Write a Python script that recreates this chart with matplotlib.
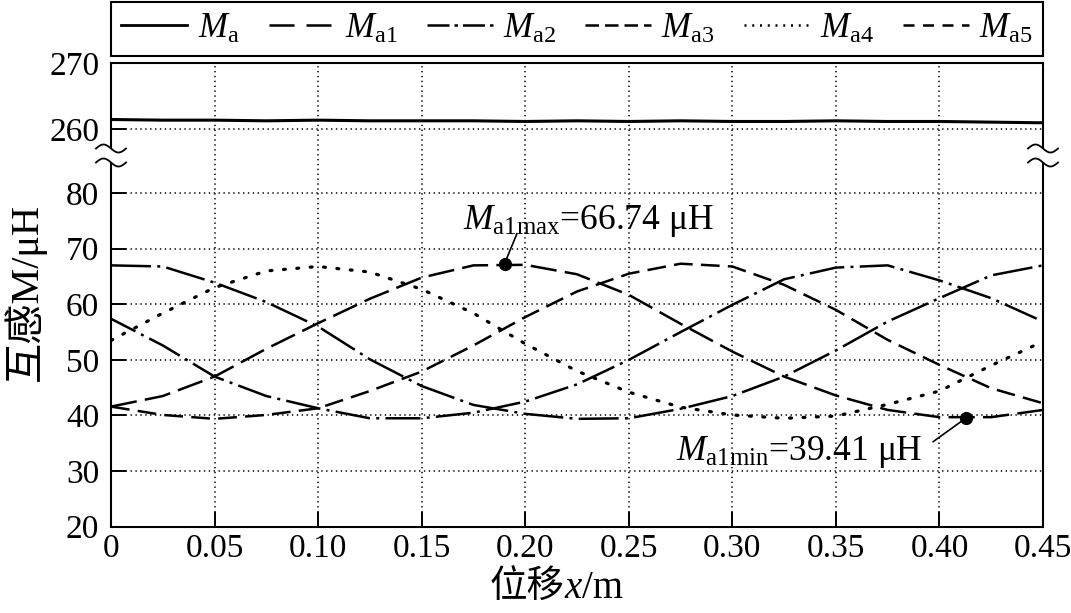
import numpy as np
import matplotlib
matplotlib.use('Agg')
import matplotlib.pyplot as plt
from matplotlib.lines import Line2D
from matplotlib.patches import Polygon
from matplotlib.ticker import NullLocator
from matplotlib.offsetbox import TextArea, HPacker, AnnotationBbox

plt.rcParams['font.family'] = ['Liberation Serif', 'Noto Sans CJK SC']
plt.rcParams['mathtext.fontset'] = 'custom'
plt.rcParams['mathtext.rm'] = 'Liberation Serif'
plt.rcParams['mathtext.it'] = 'Liberation Serif:italic'

# ---------------- data ----------------
x = [0.0, 0.025, 0.05, 0.075, 0.10, 0.125, 0.15, 0.175, 0.20, 0.225,
     0.25, 0.275, 0.30, 0.325, 0.35, 0.375, 0.40, 0.425, 0.45]
Ma = [261.5, 261.4, 261.4, 261.3, 261.4, 261.3, 261.3, 261.3, 261.2, 261.3,
      261.2, 261.3, 261.2, 261.2, 261.3, 261.2, 261.2, 261.1, 261.0]
Ma1 = [41.6, 43.5, 47.0, 52.0, 56.6, 61.0, 64.8, 67.0, 67.1, 65.4,
       61.7, 56.5, 51.5, 47.0, 43.6, 41.0, 39.7, 39.7, 41.0]
Ma2 = [67.0, 66.8, 63.9, 60.4, 56.0, 50.1, 45.3, 41.9, 40.3, 39.4,
       39.5, 41.2, 43.5, 47.0, 51.7, 56.9, 61.1, 65.2, 67.0]
Ma3 = [41.6, 40.1, 39.4, 40.1, 41.3, 44.4, 47.9, 52.6, 57.7, 62.3,
       65.5, 67.3, 66.8, 63.5, 59.0, 53.6, 49.1, 44.9, 42.2]
Ma4 = [53.5, 58.4, 63.0, 66.0, 66.8, 65.8, 62.7, 58.4, 52.9, 48.0,
       44.2, 41.5, 40.1, 39.5, 39.9, 42.0, 44.4, 49.0, 53.3]
Ma5 = [57.4, 52.6, 47.0, 43.5, 41.3, 39.5, 39.5, 40.5, 42.5, 45.6,
       50.0, 55.0, 59.9, 64.5, 66.6, 67.0, 64.3, 61.1, 56.9]

xticks = [0, 0.05, 0.10, 0.15, 0.20, 0.25, 0.30, 0.35, 0.40, 0.45]
xticklabels = ['0', '0.05', '0.10', '0.15', '0.20', '0.25', '0.30', '0.35', '0.40', '0.45']
yticks = [20, 30, 40, 50, 60, 70, 80, 260, 270]
yticklabels = ['20', '30', '40', '50', '60', '70', '80', '260', '270']

max_pt = (0.19, 67.3)
min_pt = (0.413, 39.6)
max_label = r'$\mathit{M}_{\mathrm{a1max}}$=66.74 μH'
min_label = r'$\mathit{M}_{\mathrm{a1min}}$=39.41 μH'
legend_labels = [r'$\mathit{M}_{\mathrm{a}}$', r'$\mathit{M}_{\mathrm{a1}}$', r'$\mathit{M}_{\mathrm{a2}}$',
                 r'$\mathit{M}_{\mathrm{a3}}$', r'$\mathit{M}_{\mathrm{a4}}$', r'$\mathit{M}_{\mathrm{a5}}$']

# ---------------- figure ----------------
W, H = 1071, 613
fig = plt.figure(figsize=(W / 100, H / 100), dpi=100)
L, R, T, Bt = 111, 1043, 63.3, 526.7
ax = fig.add_axes([L / W, 1 - Bt / H, (R - L) / W, (Bt - T) / H])

# broken y-axis via piecewise-linear function scale
B0, B1, K, EPS = 86.8, 256.1, 1.189, 1e-4
U1 = B0 + (B1 - B0) * EPS


def fwd(v):
    v = np.asarray(v, dtype=float)
    return np.where(v <= B0, v, np.where(v <= B1, B0 + (v - B0) * EPS, U1 + (v - B1) * K))


def inv(u):
    u = np.asarray(u, dtype=float)
    return np.where(u <= B0, u, np.where(u <= U1, B0 + (u - B0) / EPS, B1 + (u - U1) / K))


ax.set_yscale('function', functions=(fwd, inv))
ax.set_ylim(20, 270)
ax.set_xlim(0, 0.45)

lw = 1.8
ax.plot(x, Ma, color='k', lw=2.2, solid_capstyle='butt')
ax.plot(x, Ma1, color='k', lw=lw, linestyle=(0, (10.5, 3.3)))
ax.plot(x, Ma2, color='k', lw=lw, linestyle=(0, (16, 2.5, 1.2, 2.5)))
ax.plot(x, Ma3, color='k', lw=lw, linestyle=(0, (7.5, 3.3)))
ax.plot(x, Ma4, color='k', lw=2.3, linestyle=(0, (0.6, 3.6)), dash_capstyle='round')
ax.plot(x, Ma5, color='k', lw=lw, linestyle=(3, (14, 2.5, 1.2, 2.5)))

# annotations
ax.plot([max_pt[0]], [max_pt[1]], 'o', color='k', ms=8.5, zorder=5)
ax.plot([min_pt[0]], [min_pt[1]], 'o', color='k', ms=8.5, zorder=5)
ax.plot([max_pt[0], 0.196], [max_pt[1], 72.7], color='k', lw=1.2)
ax.plot([min_pt[0], 0.397], [min_pt[1], 35.3], color='k', lw=1.2)
ax.text(0.170, 73.5, max_label, fontsize=25.5, ha='left', va='baseline')
ax.text(0.273, 32.0, min_label, fontsize=25.5, ha='left', va='baseline')

# axes styling
ax.set_xticks(xticks)
ax.set_xticklabels(xticklabels)
ax.set_yticks(yticks)
ax.set_yticklabels(yticklabels)
ax.yaxis.set_minor_locator(NullLocator())
ax.xaxis.set_minor_locator(NullLocator())
ax.tick_params(direction='in', length=10.8, width=1.4, labelsize=24, top=False, right=False)
ax.tick_params(axis='y', pad=8.5)
ax.tick_params(axis='x', pad=5)
ax.grid(True, color='k', lw=1.1, linestyle=(0, (0.9, 2.3)))
for s in ax.spines.values():
    s.set_linewidth(1.5)
    s.set_color('k')

# legend
handles = [
    Line2D([], [], color='k', lw=2.0),
    Line2D([], [], color='k', lw=lw, linestyle=(0, (10, 4.8))),
    Line2D([], [], color='k', lw=lw, linestyle=(0, (8.8, 2, 1.4, 2))),
    Line2D([], [], color='k', lw=lw, linestyle=(0, (5.4, 2.4))),
    Line2D([], [], color='k', lw=lw, linestyle=(0, (0.8, 2.3))),
    Line2D([], [], color='k', lw=lw, linestyle=(0, (4.4, 3.4))),
]
leg = ax.legend(handles, legend_labels, ncol=6, loc='center', mode='expand',
                bbox_to_anchor=(0, 1 + (T - 56) / (Bt - T), 1, 54 / (Bt - T)),
                borderaxespad=0, fontsize=25, handlelength=1.9, handletextpad=0.3,
                borderpad=0.3, fancybox=False, framealpha=1, edgecolor='k')
leg.get_frame().set_linewidth(1.5)

# axis labels
fig.text(25 / W, 1 - 292 / H, '互感M/μH', rotation=90, fontsize=29,
         ha='center', va='center', family=['Liberation Serif', 'Noto Sans CJK SC'])
parts = [TextArea('位移', textprops=dict(family=['Noto Sans CJK SC'], size=27)),
         TextArea('x', textprops=dict(family=['Liberation Serif'], style='italic', size=28)),
         TextArea('/m', textprops=dict(family=['Liberation Serif'], size=28))]
box = HPacker(children=parts, align='baseline', pad=0, sep=0)
ab = AnnotationBbox(box, (556 / W, 1 - 587 / H), xycoords='figure fraction',
                    frameon=False, box_alignment=(0.5, 0.5))
fig.add_artist(ab)

# break marks on both spines
ybrk = 155.5
for xs in (L, R):
    t = np.linspace(-1, 1, 60)
    xx = xs + 15 * t
    y1 = ybrk - 7 + 4 * np.sin(np.pi * t)
    y2 = ybrk + 7 + 4 * np.sin(np.pi * t)
    poly = np.column_stack([np.concatenate([xx, xx[::-1]]) / W,
                            1 - np.concatenate([y1, y2[::-1]]) / H])
    fig.add_artist(Polygon(poly, closed=True, facecolor='white', edgecolor='none',
                           transform=fig.transFigure, zorder=5))
    for yy in (y1, y2):
        fig.add_artist(Line2D(xx / W, 1 - yy / H, color='k', lw=1.3,
                              transform=fig.transFigure, zorder=6))

fig.savefig('out.png', dpi=100)
